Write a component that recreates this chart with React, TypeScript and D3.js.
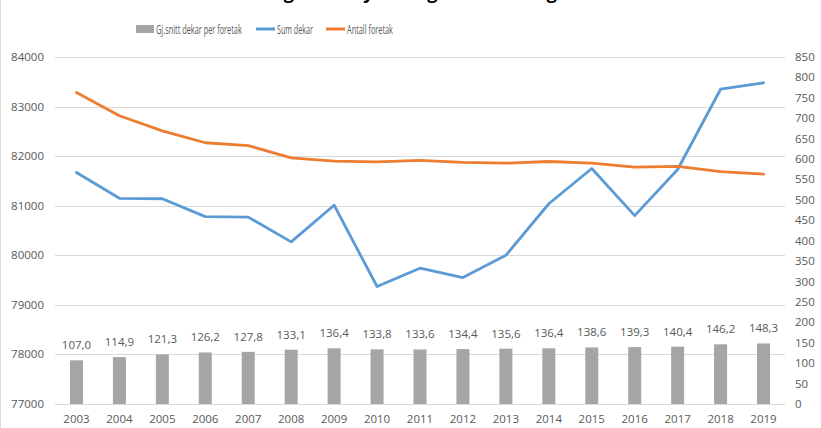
import React, { useLayoutEffect, useRef, useState } from "react";
import * as d3 from "d3";

const years = ["2003","2004","2005","2006","2007","2008","2009","2010","2011","2012","2013","2014","2015","2016","2017","2018","2019"];
const avgDekar = [107.0,114.9,121.3,126.2,127.8,133.1,136.4,133.8,133.6,134.4,135.6,136.4,138.6,139.3,140.4,146.2,148.3];
const sumDekar = [81670,81150,81140,80780,80770,80270,81010,79370,79740,79550,80000,81040,81750,80800,81730,83350,83480];
const antallForetak = [763,706,669,640,633,603,595,593,597,592,590,594,590,580,582,569,563];
const leftTicks = [77000,78000,79000,80000,81000,82000,83000,84000];
const rightTicks = d3.range(0, 851, 50);
const legendLabels = ["Gj.snitt dekar per foretak", "Sum dekar", "Antall foretak"];
const title = "Utvikling i sum dyrket og foretak i Rogaland";

const W = 821, H = 428;
const font = "'Open Sans', 'Liberation Sans', sans-serif";
const textColor = "#595959";

function FitText({ x, y, width, children }: { x: number; y: number; width: number; children: string }) {
  const ref = useRef<SVGTextElement>(null);
  const [sx, setSx] = useState(1);
  useLayoutEffect(() => {
    if (ref.current) {
      const w = ref.current.getComputedTextLength();
      if (w > 0) setSx(width / w);
    }
  }, [width, children]);
  return (
    <g transform={`translate(${x},${y}) scale(${sx},1)`}>
      <text ref={ref} x={0} y={0}>{children}</text>
    </g>
  );
}

export default function App() {
  const x = d3.scaleBand().domain(years).range([55, 785]).paddingInner(0).paddingOuter(0);
  const yL = d3.scaleLinear().domain([77000, 84000]).range([404, 57]);
  const yR = d3.scaleLinear().domain([0, 850]).range([404, 57]);
  const cx = (y: string) => (x(y) as number) + x.bandwidth() / 2;
  const barW = 13;

  const lineSum = d3.line<number>().x((_, i) => cx(years[i])).y((d) => yL(d));
  const lineAnt = d3.line<number>().x((_, i) => cx(years[i])).y((d) => yR(d));

  return (
    <svg width={W} height={H} style={{ position: "absolute", left: 0, top: 0, background: "#fff" }}>
      <rect x={0} y={0} width={W} height={H} fill="#fff" />
      <line x1={0.5} x2={0.5} y1={0} y2={H} stroke="#d9d9d9" />
      <text x={410} y={-1} textAnchor="middle" fontFamily={font} fontWeight="bold" fontSize={18} fill="#000">{title}</text>

      {/* legend */}
      <g fontFamily={font} fontSize={12} fill={textColor}>
        <rect x={136} y={25} width={18} height={8} fill="#a5a5a5" />
        <FitText x={156} y={33.5} width={86}>{legendLabels[0]}</FitText>
        <line x1={256} x2={275} y1={29} y2={29} stroke="#5b9bd5" strokeWidth={3} />
        <FitText x={277} y={33.5} width={36}>{legendLabels[1]}</FitText>
        <line x1={326} x2={345} y1={29} y2={29} stroke="#ed7d31" strokeWidth={3} />
        <FitText x={347} y={33.5} width={46}>{legendLabels[2]}</FitText>
      </g>

      {/* gridlines */}
      {leftTicks.map((t) => (
        <line key={t} x1={55} x2={785} y1={Math.round(yL(t)) + 0.5} y2={Math.round(yL(t)) + 0.5} stroke="#d9d9d9" strokeWidth={1} />
      ))}

      {/* left axis labels */}
      <g fontFamily={font} fontSize={11.5} fill={textColor} textAnchor="end">
        {leftTicks.map((t) => (
          <text key={t} x={44} y={yL(t) + 4}>{t}</text>
        ))}
      </g>
      {/* right axis labels */}
      <g fontFamily={font} fontSize={11.5} fill={textColor} textAnchor="start">
        {rightTicks.map((t) => (
          <text key={t} x={795} y={yR(t) + 4}>{t}</text>
        ))}
      </g>

      {/* bars */}
      {avgDekar.map((v, i) => (
        <rect key={years[i]} x={cx(years[i]) - barW / 2} y={yR(v)} width={barW} height={yR(0) - yR(v)} fill="#a5a5a5" />
      ))}
      <g fontFamily={font} fontSize={11.5} fill={textColor} textAnchor="middle">
        {avgDekar.map((v, i) => (
          <text key={years[i]} x={cx(years[i])} y={yR(v) - 11}>{v.toFixed(1).replace(".", ",")}</text>
        ))}
      </g>

      {/* x axis */}
      <line x1={55} x2={785} y1={404.5} y2={404.5} stroke="#d9d9d9" />
      <g fontFamily={font} fontSize={11.5} fill={textColor} textAnchor="middle">
        {years.map((y) => (
          <text key={y} x={cx(y)} y={423}>{y}</text>
        ))}
      </g>

      {/* lines */}
      <path d={lineSum(sumDekar) || ""} fill="none" stroke="#5b9bd5" strokeWidth={2.8} strokeLinejoin="round" strokeLinecap="round" />
      <path d={lineAnt(antallForetak) || ""} fill="none" stroke="#ed7d31" strokeWidth={2.8} strokeLinejoin="round" strokeLinecap="round" />
    </svg>
  );
}
